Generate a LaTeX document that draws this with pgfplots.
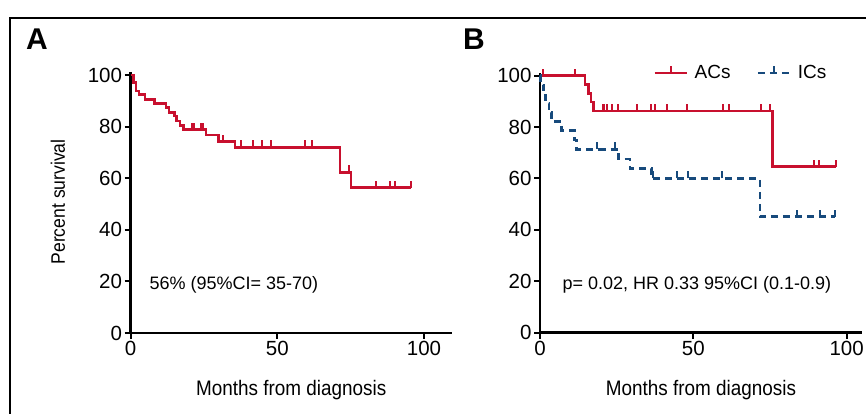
\documentclass[border=0pt]{standalone}
\usepackage{fontspec}
\setmainfont{Liberation Sans}
\newfontfamily\condfont{Liberation Sans}[FakeStretch=0.9]
\usepackage{pgfplots}
\pgfplotsset{compat=1.18}
\definecolor{kmred}{RGB}{200,16,46}
\definecolor{kmblue}{RGB}{23,74,124}
\pgfdeclareplotmark{ctick}{\pgfpathmoveto{\pgfqpoint{0pt}{0pt}}\pgfpathlineto{\pgfqpoint{0pt}{7pt}}\pgfusepathqstroke}
\pgfplotsset{
  kmaxis/.style={
    scale only axis,
    axis x line=bottom, axis y line=left,
    axis line style={-, line width=2.4pt, black},
    tick style={black, line width=2pt},
    major tick length=6pt, tick align=outside,
    xmin=0, ymin=0, ymax=101,
    xtick={0,50,100}, ytick={0,20,40,60,80,100},
    /pgf/number format/assume math mode=true,
    ticklabel style={font=\fontsize{20.5}{22}\selectfont},
    xticklabel style={yshift=1pt},
    yticklabel style={xshift=1pt},
    xlabel={Months from diagnosis},
    xlabel style={at={(axis description cs:0.5,0)}, anchor=center, yshift=-57pt,
      font=\condfont\fontsize{21}{22}\selectfont},
    clip=false,
  },
  kmline/.style={const plot, line width=2.7pt, no markers},
  kmcens/.style={only marks, mark=ctick, mark options={line width=2pt}},
}
\begin{document}
\begin{tikzpicture}[x=1pt,y=1pt]
\useasboundingbox (0,0) rectangle (866,414);
\draw[line width=2pt] (10,-2) -- (10,396) -- (868,396);
\node[font=\bfseries\fontsize{30}{30}\selectfont] at (37,375) {A};
\node[font=\bfseries\fontsize{30}{30}\selectfont] at (474,375) {B};

% Panel A
\begin{axis}[kmaxis, at={(130.5pt,81pt)}, anchor=south west,
  width=321.4pt, height=260.6pt, xmax=109.5,
  ylabel={Percent survival},
  ylabel style={at={(axis description cs:-0.2256,0.503)}, anchor=center,
    font=\condfont\fontsize{19.5}{22}\selectfont}]
\addplot[kmline, kmred] coordinates {
(0,100) (1.0,97.0) (1.9,93.8) (2.9,92.5) (4.9,90.6) (8.1,88.9) (12.1,87.3)
(13.1,85.5) (14.9,84.1) (15.7,82.2) (16.9,80.4) (18.0,78.8) (25.7,76.7)
(29.9,74.2) (35.6,72.0) (71.4,62.3) (75.1,56.3) (95.5,56.3)};
\addplot[kmcens, kmred] coordinates {
(20.8,78.8) (21.6,78.8) (24.0,78.8) (24.8,78.8) (31.6,74.2)
(37.5,72.0) (41.8,72.0) (44.9,72.0) (47.8,72.0) (59.5,72.0) (61.7,72.0)
(74.4,62.3) (83.6,56.3) (88.4,56.3) (90.1,56.3) (95.5,56.3)};
\node[anchor=west, font=\fontsize{18}{20}\selectfont] at (axis cs:5.3,18.6) {56\% (95\%CI= 35-70)};
\end{axis}

% Panel B
\begin{axis}[kmaxis, at={(540pt,81.3pt)}, anchor=south west,
  width=322pt, height=259.6pt, xmax=105,
  legend columns=2,
  legend style={draw=none, fill=none, at={(axis cs:65.5,101)}, anchor=center,
    font=\fontsize{19}{21}\selectfont, /tikz/every even column/.append style={column sep=24pt}},
  legend cell align=left]
\addplot[kmline, kmred, forget plot] coordinates {
(0,100) (14.7,96.6) (15.8,93.1) (16.6,89.7) (17.4,86.2) (75.9,64.6) (96.5,64.6)};
\addplot[kmcens, kmred, forget plot] coordinates {
(1.0,100) (11.5,100)
(20.4,86.2) (21.0,86.2) (21.7,86.2) (23.5,86.2) (25.3,86.2) (31.6,86.2) (36.2,86.2)
(37.5,86.2) (41.5,86.2) (48.0,86.2) (59.8,86.2) (61.7,86.2) (72.0,86.2) (75.0,86.2)
(89.3,64.6) (91.1,64.6) (96.5,64.6)};
\addplot[kmline, kmblue, dash pattern=on 7pt off 5pt, forget plot] coordinates {
(0,100) (0.2,96.4) (1.1,92.9) (1.8,89.3) (2.9,85.7) (3.8,82.1) (7.1,78.6)
(11.2,75.0) (11.9,71.4) (25.5,67.6) (29.3,63.9) (36.4,60.0) (71.7,45.1) (96.2,45.1)};
\addplot[kmcens, kmblue, forget plot] coordinates {
(18.5,71.4) (24.5,71.4) (37.0,60.0) (44.6,60.0) (48.4,60.0) (59.2,60.0)
(83.7,45.1) (91.3,45.1) (96.2,45.1)};
\addlegendimage{legend image code/.code={
  \path[draw=none, fill=none] (0pt,-4pt) rectangle (38pt,8pt);
  \draw[kmred, line width=2.7pt] (0pt,0pt) -- (32pt,0pt);
  \draw[kmred, line width=2pt] (16pt,0pt) -- (16pt,7pt);}}
\addlegendentry{ACs}
\addlegendimage{legend image code/.code={
  \path[draw=none, fill=none] (0pt,-4pt) rectangle (38pt,8pt);
  \draw[kmblue, line width=2.7pt, dash pattern=on 7pt off 5pt] (0pt,0pt) -- (32pt,0pt);
  \draw[kmblue, line width=2pt] (16pt,0pt) -- (16pt,7pt);}}
\addlegendentry{ICs}
\node[anchor=west, font=\fontsize{18}{20}\selectfont] at (axis cs:6.2,18.6) {p= 0.02, HR 0.33 95\%CI (0.1-0.9)};
\end{axis}
\end{tikzpicture}
\end{document}
